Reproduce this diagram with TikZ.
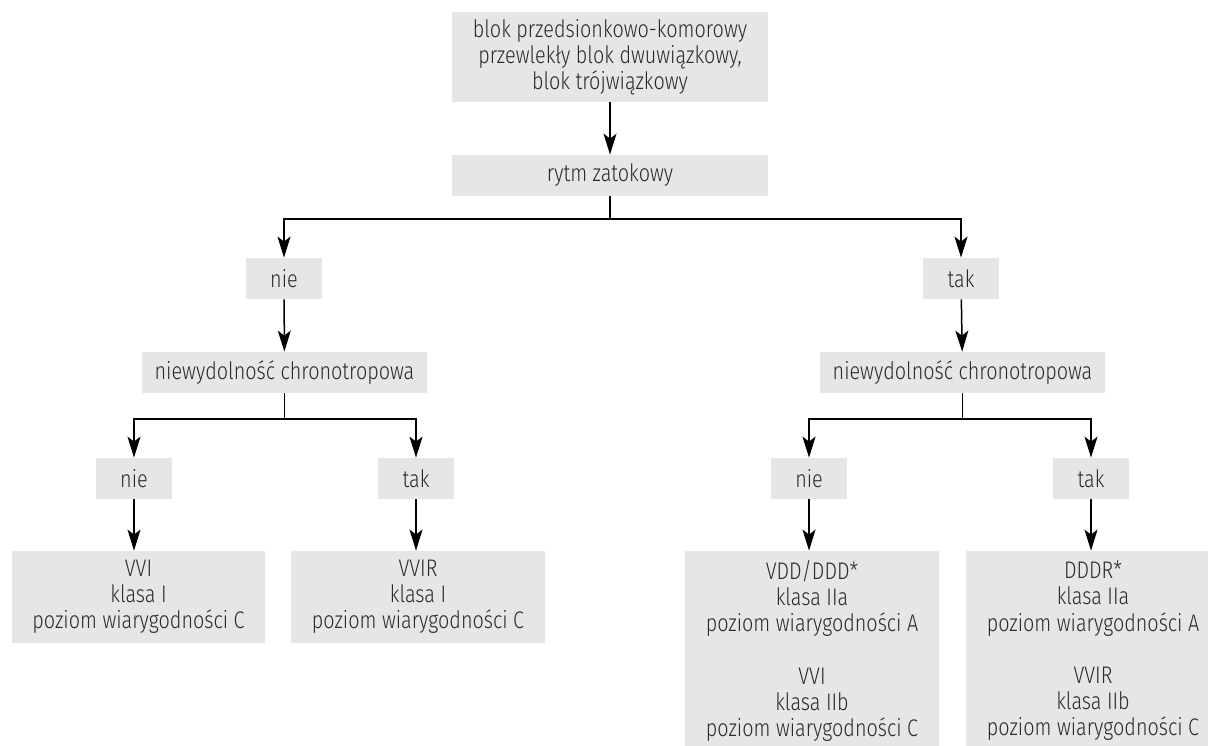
\documentclass[tikz,border=0pt]{standalone}
\usepackage{fontspec}
\setmainfont{Fira Sans Light}[FakeStretch=0.825]
\usetikzlibrary{arrows.meta}
\definecolor{boxgray}{HTML}{E6E6E6}
\definecolor{txtgray}{HTML}{2A2A2A}
\tikzset{
  box/.style={fill=boxgray, inner sep=0pt, align=center, text=txtgray,
    font=\fontsize{12}{13.1}\selectfont},
  arr/.style={line width=0.75pt, -{Stealth[length=10.5pt,width=6.5pt,inset=2.5pt]}},
  ln/.style={line width=0.75pt}
}
\begin{document}
\begin{tikzpicture}[x=0.5pt,y=-0.5pt]
\useasboundingbox (0,0) rectangle (1208,745);
\node[box, minimum width=158pt, minimum height=45pt] (top) at (610,57)
  {blok przedsionkowo-komorowy\\przewlekły blok dwuwiązkowy,\\blok trójwiązkowy};
\node[box, minimum width=158pt, minimum height=20.5pt] (rytm) at (610,175.5) {rytm zatokowy};
\node[box, minimum width=38pt, minimum height=20.5pt] (nieA) at (284,278.5) {nie};
\node[box, minimum width=38pt, minimum height=20.5pt] (takA) at (961,278.5) {tak};
\node[box, minimum width=142.5pt, minimum height=20.5pt] (niewL) at (284.5,372.5) {niewydolność chronotropowa};
\node[box, minimum width=142.5pt, minimum height=20.5pt] (niewR) at (962.5,372.5) {niewydolność chronotropowa};
\node[box, minimum width=38pt, minimum height=20.5pt] (nieL) at (134,478.5) {nie};
\node[box, minimum width=38pt, minimum height=20.5pt] (takL) at (416,478.5) {tak};
\node[box, minimum width=38pt, minimum height=20.5pt] (nieR) at (809,478.5) {nie};
\node[box, minimum width=38pt, minimum height=20.5pt] (takR) at (1091,478.5) {tak};
\node[box, minimum width=126.5pt, minimum height=46pt] (vvi) at (138.5,597)
  {VVI\\klasa I\\poziom wiarygodności C};
\node[box, minimum width=127pt, minimum height=46pt] (vvir) at (418,597)
  {VVIR\\klasa I\\poziom wiarygodności C};
\node[box, minimum width=127pt, minimum height=100pt] (vdd) at (812,651)
  {VDD/DDD*\\klasa IIa\\poziom wiarygodności A\\[13.1pt]VVI\\klasa IIb\\poziom wiarygodności C};
\node[box, minimum width=127pt, minimum height=100pt] (dddr) at (1093,651)
  {DDDR*\\klasa IIa\\poziom wiarygodności A\\[13.1pt]VVIR\\klasa IIb\\poziom wiarygodności C};
% connectors
\draw[arr] (top) -- (rytm);
\coordinate (j1) at (610,219);
\draw[ln] (rytm.south) -- (j1);
\draw[arr] (j1) -| (nieA.north);
\draw[arr] (j1) -| (takA.north);
\draw[arr] (nieA) -- (niewL);
\draw[arr] (takA) -- (niewR);
\coordinate (j2) at (284.5,419);
\draw[ln] (niewL.south) -- (j2);
\draw[arr] (j2) -| (nieL.north);
\draw[arr] (j2) -| (takL.north);
\coordinate (j3) at (962.5,419);
\draw[ln] (niewR.south) -- (j3);
\draw[arr] (j3) -| (nieR.north);
\draw[arr] (j3) -| (takR.north);
\draw[arr] (nieL.south) -- (nieL.south |- vvi.north);
\draw[arr] (takL.south) -- (takL.south |- vvir.north);
\draw[arr] (nieR.south) -- (nieR.south |- vdd.north);
\draw[arr] (takR.south) -- (takR.south |- dddr.north);
\end{tikzpicture}
\end{document}
